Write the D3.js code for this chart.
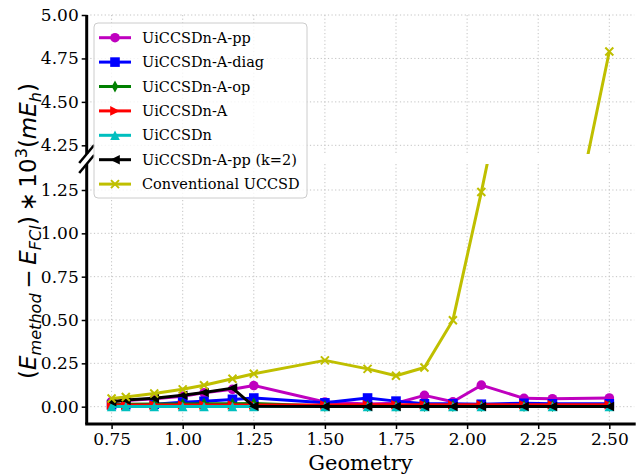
<!DOCTYPE html>
<html>
<head>
<meta charset="utf-8">
<script src="https://cdnjs.cloudflare.com/ajax/libs/d3/7.8.5/d3.min.js"></script>
<style>
  body { margin: 0; background: #fff; }
  svg { display: block; }
  .tick text { font-family: "DejaVu Serif", serif; }
</style>
</head>
<body>
<div id="viz"></div>
<script>
/* broken y-axis chart: energy error vs geometry */

var geom = [0.75, 0.80, 0.90, 1.00, 1.075, 1.175, 1.25, 1.50, 1.65, 1.75, 1.85, 1.95, 2.05, 2.20, 2.30, 2.50];

var ppVals   = [0.030, 0.035, 0.045, 0.060, 0.080, 0.100, 0.122, 0.027, 0.016, 0.020, 0.065, 0.028, 0.124, 0.048, 0.046, 0.050];
var diagVals = [0.012, 0.012, 0.014, 0.026, 0.031, 0.042, 0.050, 0.022, 0.050, 0.032, 0.017, 0.017, 0.014, 0.020, 0.017, 0.017];
var opVals   = [0.014, 0.014, 0.015, 0.016, 0.017, 0.017, 0.018, 0.004, 0.004, 0.004, 0.004, 0.004, 0.004, 0.004, 0.004, 0.004];
var aVals    = [0.009, 0.009, 0.009, 0.010, 0.010, 0.010, 0.010, 0.010, 0.011, 0.011, 0.011, 0.011, 0.011, 0.011, 0.011, 0.011];
var nVals    = [0.001, 0.001, 0.001, 0.001, 0.001, 0.001, 0.001, 0.001, 0.001, 0.001, 0.001, 0.001, 0.001, 0.001, 0.001, 0.001];
var k2Vals   = [0.028, 0.038, 0.048, 0.066, 0.082, 0.107, 0.002, 0.001, 0.001, 0.001, 0.001, 0.001, 0.001, 0.001, 0.001, 0.001];

// conventional UCCSD has no points at 2.20 and 2.30
var convGeom = [0.75, 0.80, 0.90, 1.00, 1.075, 1.175, 1.25, 1.50, 1.65, 1.75, 1.85, 1.95, 2.05, 2.50];
var convVals = [0.047, 0.056, 0.076, 0.100, 0.124, 0.161, 0.190, 0.267, 0.218, 0.178, 0.226, 0.499, 1.238, 4.79];

var seriesNames = ['UiCCSDn-A-pp', 'UiCCSDn-A-diag', 'UiCCSDn-A-op', 'UiCCSDn-A', 'UiCCSDn', 'UiCCSDn-A-pp (k=2)', 'Conventional UCCSD'];
var seriesColors = ['#bf00bf', '#0000ff', '#008000', '#ff0000', '#00bfbf', '#000000', '#bfbf00'];
var seriesMarkers = ['circle', 'square', 'thin_diamond', 'tri_right', 'tri_up', 'tri_left', 'x'];

var xTicks = [0.75, 1.00, 1.25, 1.50, 1.75, 2.00, 2.25, 2.50];
var yTicksTop = [4.25, 4.50, 4.75, 5.00];
var yTicksBottom = [0.00, 0.25, 0.50, 0.75, 1.00, 1.25];

var width = 641, height = 475;
var left = 86.7, right = 634.2;
var topPanel = { y0: 15, y1: 154, domain: [4.2, 5.0] };
var botPanel = { y0: 164, y1: 424, domain: [-0.1, 1.4] };

var series = [];
var allVals = [ppVals, diagVals, opVals, aVals, nVals, k2Vals];
allVals.forEach(function(v, i) {
  series.push({ name: seriesNames[i], color: seriesColors[i], marker: seriesMarkers[i],
    pts: v.map(function(d, j) { return [geom[j], d]; }) });
});
series.push({ name: seriesNames[6], color: seriesColors[6], marker: seriesMarkers[6],
  pts: convVals.map(function(d, j) { return [convGeom[j], d]; }) });

var svg = d3.select('#viz').append('svg')
    .attr('width', width)
    .attr('height', height);

var x = d3.scaleLinear().domain([0.6625, 2.5875]).range([left, right]);

function markerPath(type) {
  var s = 4.8;
  switch (type) {
    case 'square': return 'M' + (-s) + ',' + (-s) + 'h' + 2 * s + 'v' + 2 * s + 'h' + (-2 * s) + 'Z';
    case 'thin_diamond': return 'M0,' + (-s * 1.25) + 'L' + (s * 0.7) + ',0L0,' + (s * 1.25) + 'L' + (-s * 0.7) + ',0Z';
    case 'tri_right': return 'M' + s + ',0L' + (-s) + ',' + (-s) + 'L' + (-s) + ',' + s + 'Z';
    case 'tri_left': return 'M' + (-s) + ',0L' + s + ',' + (-s) + 'L' + s + ',' + s + 'Z';
    case 'tri_up': return 'M0,' + (-s) + 'L' + s + ',' + s + 'L' + (-s) + ',' + s + 'Z';
    case 'x': return 'M-4,-4L4,4M-4,4L4,-4';
  }
  return null;
}

function drawMarker(g, type, color, cx, cy) {
  if (type === 'circle') {
    g.append('circle').attr('cx', cx).attr('cy', cy).attr('r', 4.8).attr('fill', color);
  } else if (type === 'x') {
    g.append('path').attr('transform', 'translate(' + cx + ',' + cy + ')')
      .attr('d', markerPath(type)).attr('stroke', color).attr('stroke-width', 2).attr('fill', 'none');
  } else {
    g.append('path').attr('transform', 'translate(' + cx + ',' + cy + ')')
      .attr('d', markerPath(type)).attr('fill', color);
  }
}

function drawPanel(p, idx, ticks) {
  var y = d3.scaleLinear().domain(p.domain).range([p.y1, p.y0]);
  var clipId = 'clip' + idx;
  svg.append('clipPath').attr('id', clipId).append('rect')
    .attr('x', left).attr('y', p.y0).attr('width', right - left).attr('height', p.y1 - p.y0);

  var grid = svg.append('g').attr('stroke', '#b0b0b0').attr('stroke-width', 1)
    .attr('stroke-dasharray', '1.2,2.4').attr('opacity', 0.75);
  xTicks.forEach(function(t) {
    grid.append('line').attr('x1', x(t)).attr('x2', x(t)).attr('y1', p.y0).attr('y2', p.y1);
  });
  ticks.forEach(function(t) {
    grid.append('line').attr('x1', left).attr('x2', right).attr('y1', y(t)).attr('y2', y(t));
  });

  var plot = svg.append('g').attr('clip-path', 'url(#' + clipId + ')');
  var line = d3.line().x(function(d) { return x(d[0]); }).y(function(d) { return y(d[1]); });
  series.forEach(function(s) {
    var g = plot.append('g');
    g.append('path').datum(s.pts).attr('d', line)
      .attr('fill', 'none').attr('stroke', s.color).attr('stroke-width', 3)
      .attr('stroke-linejoin', 'round');
    s.pts.forEach(function(d) { drawMarker(g, s.marker, s.color, x(d[0]), y(d[1])); });
  });

  var yAxis = svg.append('g')
    .attr('transform', 'translate(' + left + ',0)')
    .call(d3.axisLeft(y).tickValues(ticks).tickFormat(d3.format('.2f')).tickSize(5).tickPadding(3));
  yAxis.select('.domain').attr('stroke-width', 3).attr('d', 'M0,' + p.y0 + 'V' + p.y1);
  yAxis.selectAll('.tick line').attr('stroke-width', 1.5);
  yAxis.selectAll('.tick text').attr('font-size', 17).attr('fill', '#000');
  return y;
}

drawPanel(topPanel, 0, yTicksTop);
drawPanel(botPanel, 1, yTicksBottom);

var xAxis = svg.append('g')
  .attr('transform', 'translate(0,' + botPanel.y1 + ')')
  .call(d3.axisBottom(x).tickValues(xTicks).tickFormat(d3.format('.2f')).tickSize(5).tickPadding(4));
xAxis.select('.domain').attr('stroke-width', 3).attr('d', 'M' + (left - 1.5) + ',0H' + (right + 1.5));
xAxis.selectAll('.tick line').attr('stroke-width', 1.5);
xAxis.selectAll('.tick text').attr('font-size', 17).attr('fill', '#000');

// break marks
[topPanel.y1, botPanel.y0].forEach(function(yy) {
  svg.append('line').attr('x1', left - 7.5).attr('y1', yy + 9).attr('x2', left + 7.5).attr('y2', yy - 9)
    .attr('stroke', '#000').attr('stroke-width', 2.5);
});

// axis labels
svg.append('text')
  .attr('x', (left + right) / 2).attr('y', 470)
  .attr('text-anchor', 'middle')
  .attr('font-family', '"DejaVu Serif", serif')
  .attr('font-size', 21)
  .text('Geometry');

var fs = 23;
var ylab = svg.append('text')
  .attr('transform', 'translate(36,231) rotate(-90)')
  .attr('text-anchor', 'middle')
  .attr('font-family', '"DejaVu Sans", sans-serif')
  .attr('font-size', fs);
var parts = [
  ['(', 0, false, 1], ['E', 0, true, 1], ['method', 4.5, true, 0.7], ['\u2009\u2212\u2009', -4.5, false, 1],
  ['E', 0, true, 1], ['FCI', 4.5, true, 0.7], [')\u2009\u2217\u200910', -4.5, false, 1], ['3', -9, false, 0.7],
  ['(', 9, false, 1], ['mE', 0, true, 1], ['h', 4.5, true, 0.7], [')', -4.5, false, 1]
];
parts.forEach(function(p) {
  ylab.append('tspan')
    .attr('dy', p[1])
    .attr('font-style', p[2] ? 'italic' : 'normal')
    .attr('font-size', fs * p[3])
    .text(p[0]);
});

// legend
var legend = svg.append('g').attr('transform', 'translate(94,23)');
legend.append('rect').attr('width', 213).attr('height', 175).attr('rx', 4)
  .attr('fill', '#fff').attr('fill-opacity', 0.8).attr('stroke', '#cccccc');
series.forEach(function(s, i) {
  var yy = 14.7 + i * 24.4;
  var g = legend.append('g');
  g.append('line').attr('x1', 5).attr('x2', 37).attr('y1', yy).attr('y2', yy)
    .attr('stroke', s.color).attr('stroke-width', 3);
  drawMarker(g, s.marker, s.color, 21, yy);
  g.append('text').attr('x', 48).attr('y', yy).attr('dy', '0.35em')
    .attr('font-family', '"DejaVu Serif", serif').attr('font-size', 14.5)
    .text(s.name);
});
</script>
</body>
</html>
